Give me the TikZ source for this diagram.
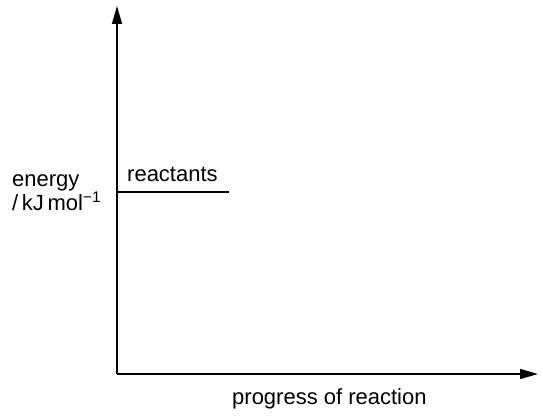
\documentclass[tikz,border=0pt]{standalone}
\usepackage{fontspec}
\setmainfont{Liberation Sans}
\usetikzlibrary{arrows.meta,positioning}

\begin{document}
\begin{tikzpicture}[x=1pt,y=-1pt,>={Triangle[length=18pt,width=10pt]},
  font=\fontsize{22}{26}\selectfont,
  axis/.style={line width=1.6pt,->},
  lbl/.style={anchor=base west,inner sep=0pt}]
\useasboundingbox (0,0) rectangle (543,417);
% axes
\coordinate (origin) at (117,374);
\coordinate (ytip) at (117,6);
\coordinate (xtip) at (538,374);
\draw[axis] (origin) -- (ytip);
\draw[axis] (origin) -- (xtip);
% reactants level
\coordinate (r0) at (117,192);
\coordinate (r1) at (229,192);
\draw[line width=1.6pt] (r0) -- (r1);
\node[lbl] (reactants) at (127,181) {reactants};
% axis labels
\node[lbl] (energy) at (12,186) {energy};
\node[lbl] (unit) at (12,210) {/\,kJ\,mol\textsuperscript{\char"2212 1}};
\node[lbl] (progress) at (232,404) {progress of reaction};
\end{tikzpicture}
\end{document}
